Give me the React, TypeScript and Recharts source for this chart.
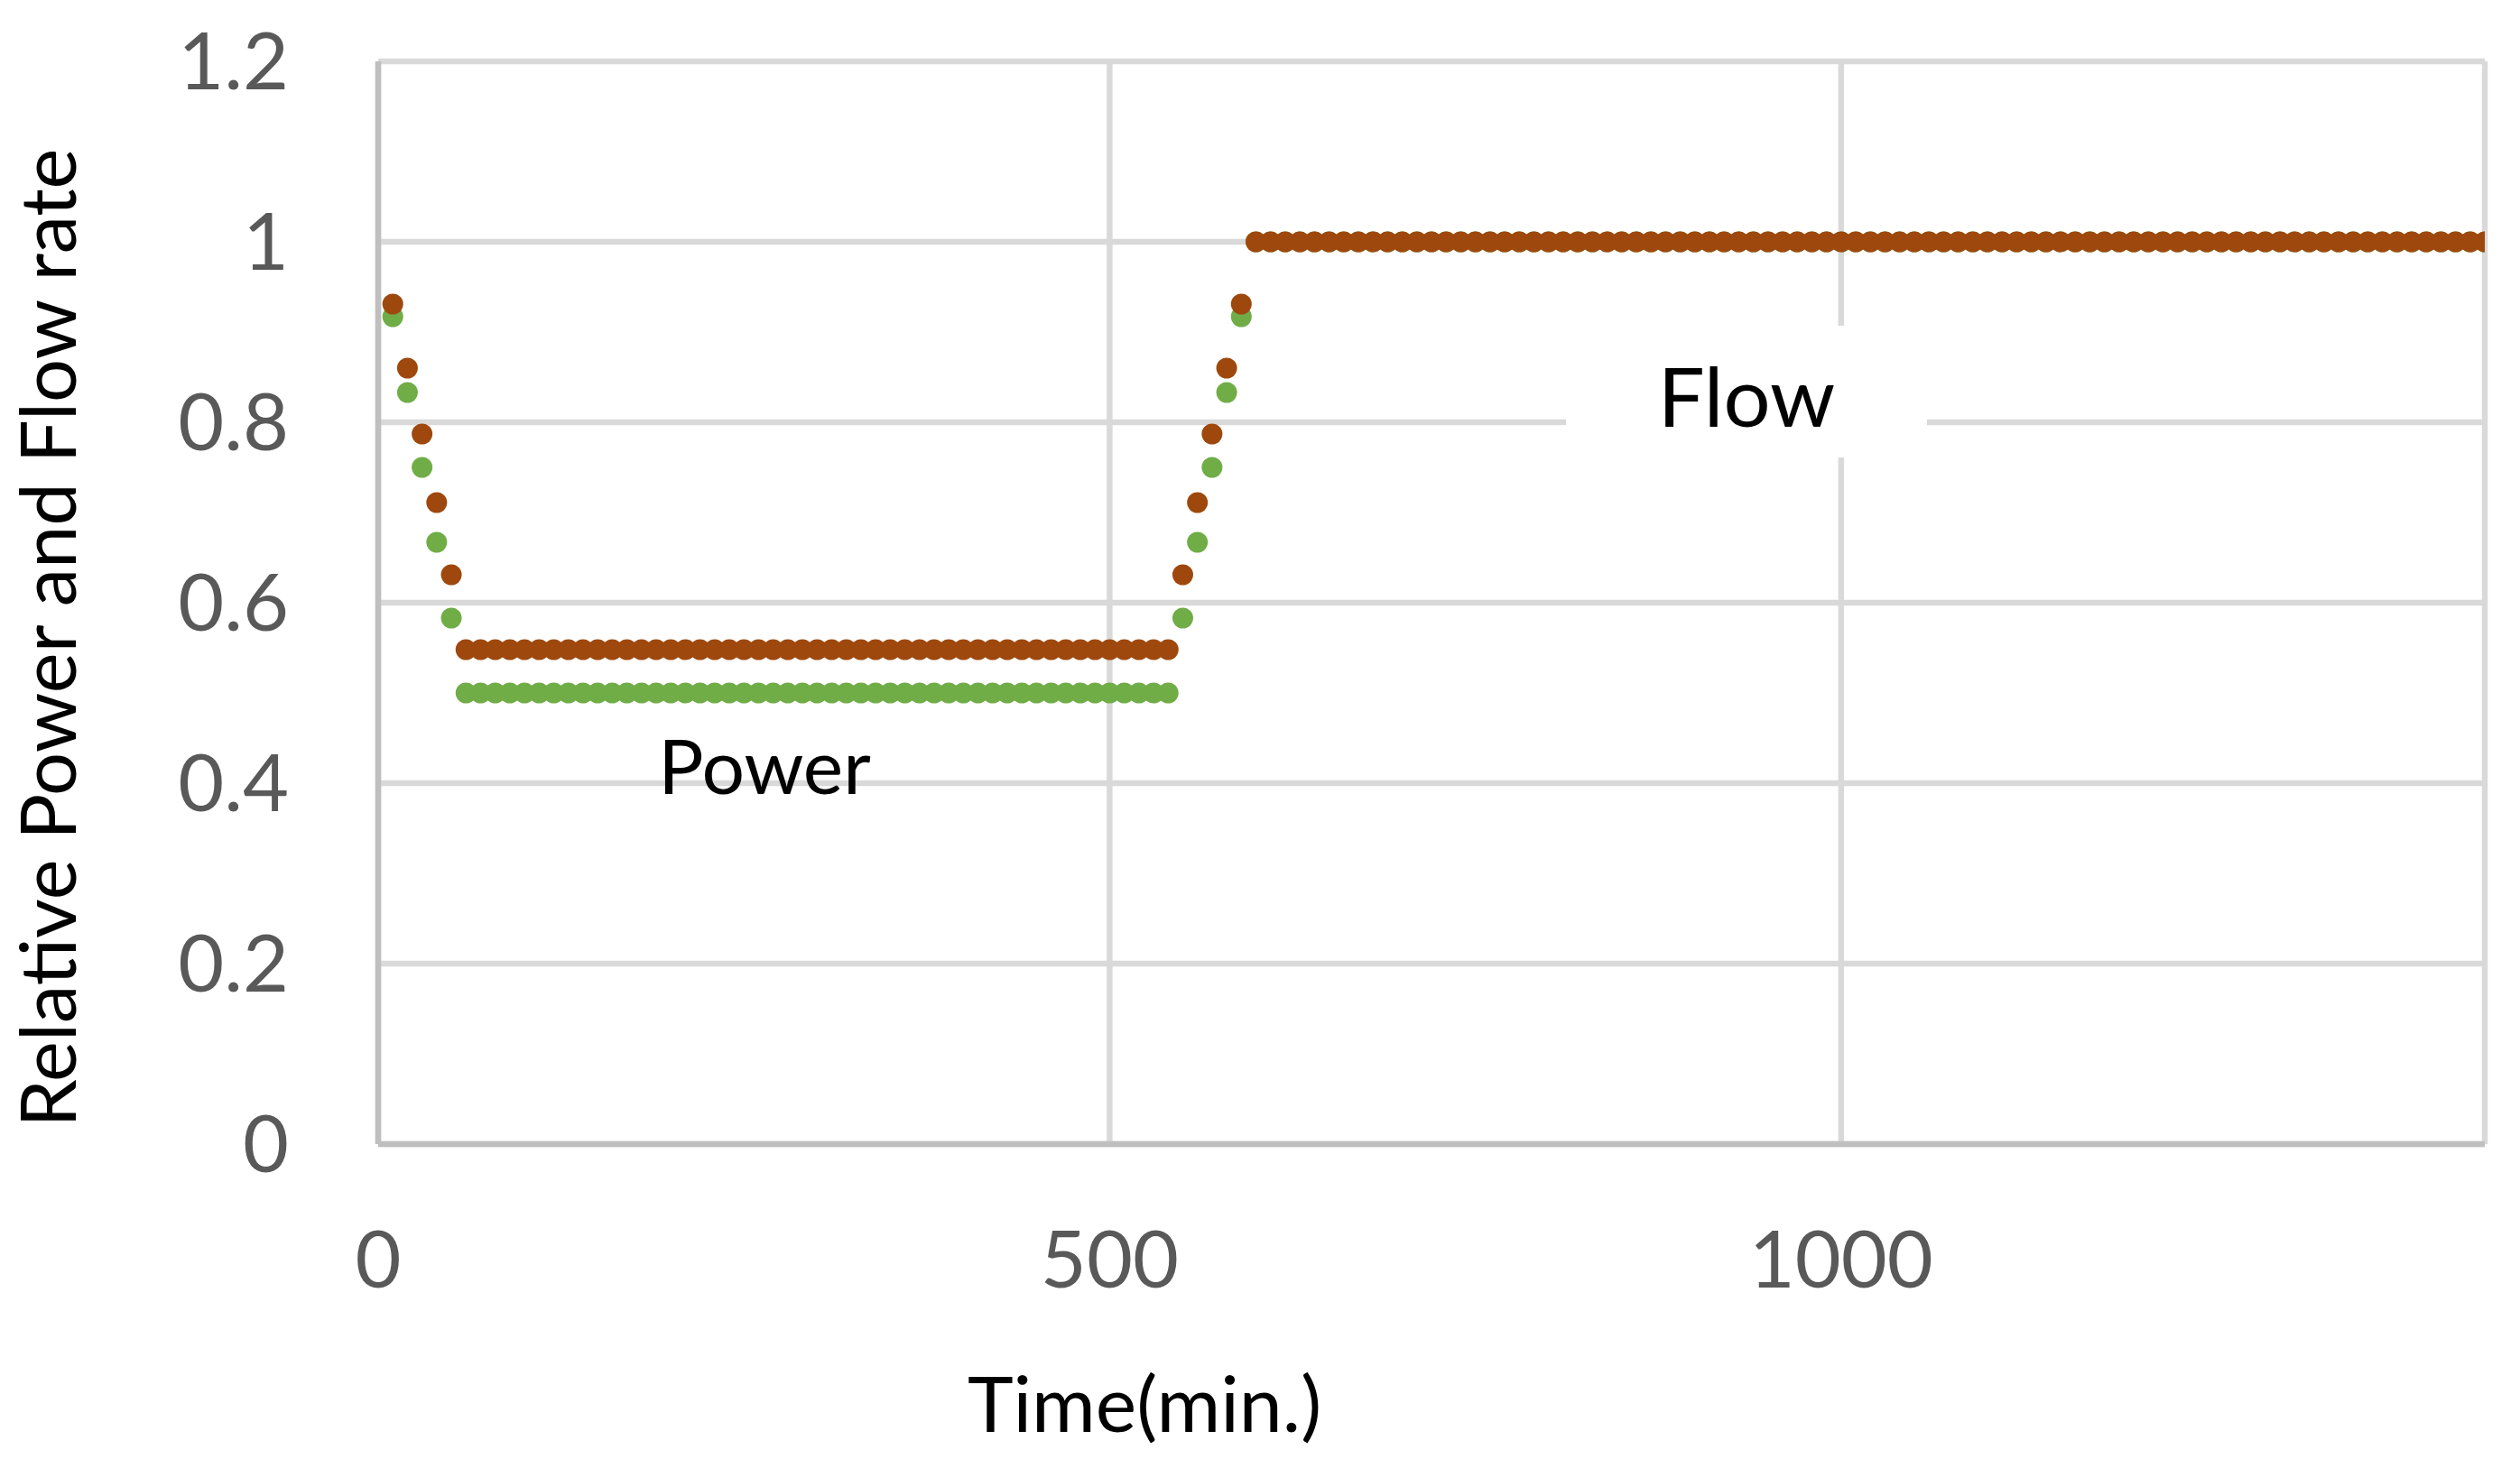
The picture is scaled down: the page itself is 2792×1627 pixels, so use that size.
import React from "react";
import { ScatterChart, Scatter, XAxis, YAxis, CartesianGrid, Label } from "recharts";

// Time in minutes (every 10 minutes over one day)
const times = [
  10, 20, 30, 40, 50, 60, 70, 80, 90, 100, 110, 120, 130, 140, 150, 160, 170, 180, 190, 200,
  210, 220, 230, 240, 250, 260, 270, 280, 290, 300, 310, 320, 330, 340, 350, 360, 370, 380, 390, 400,
  410, 420, 430, 440, 450, 460, 470, 480, 490, 500, 510, 520, 530, 540, 550, 560, 570, 580, 590, 600,
  610, 620, 630, 640, 650, 660, 670, 680, 690, 700, 710, 720, 730, 740, 750, 760, 770, 780, 790, 800,
  810, 820, 830, 840, 850, 860, 870, 880, 890, 900, 910, 920, 930, 940, 950, 960, 970, 980, 990, 1000,
  1010, 1020, 1030, 1040, 1050, 1060, 1070, 1080, 1090, 1100, 1110, 1120, 1130, 1140, 1150, 1160, 1170, 1180, 1190, 1200,
  1210, 1220, 1230, 1240, 1250, 1260, 1270, 1280, 1290, 1300, 1310, 1320, 1330, 1340, 1350, 1360, 1370, 1380, 1390, 1400,
  1410, 1420, 1430, 1440,
];

// Relative power (green)
const power = [
  0.917, 0.833, 0.75, 0.667, 0.583,
  0.5, 0.5, 0.5, 0.5, 0.5, 0.5, 0.5, 0.5, 0.5, 0.5,
  0.5, 0.5, 0.5, 0.5, 0.5, 0.5, 0.5, 0.5, 0.5, 0.5,
  0.5, 0.5, 0.5, 0.5, 0.5, 0.5, 0.5, 0.5, 0.5, 0.5,
  0.5, 0.5, 0.5, 0.5, 0.5, 0.5, 0.5, 0.5, 0.5, 0.5,
  0.5, 0.5, 0.5, 0.5, 0.5, 0.5, 0.5, 0.5, 0.5,
  0.583, 0.667, 0.75, 0.833, 0.917,
  1, 1, 1, 1, 1, 1, 1, 1, 1, 1,
  1, 1, 1, 1, 1, 1, 1, 1, 1, 1,
  1, 1, 1, 1, 1, 1, 1, 1, 1, 1,
  1, 1, 1, 1, 1, 1, 1, 1, 1, 1,
  1, 1, 1, 1, 1, 1, 1, 1, 1, 1,
  1, 1, 1, 1, 1, 1, 1, 1, 1, 1,
  1, 1, 1, 1, 1, 1, 1, 1, 1, 1,
  1, 1, 1, 1, 1, 1, 1, 1, 1, 1,
  1, 1, 1, 1, 1,
];

// Relative flow rate (brown)
const flow = [
  0.931, 0.86, 0.787, 0.711, 0.631,
  0.548, 0.548, 0.548, 0.548, 0.548, 0.548, 0.548, 0.548, 0.548, 0.548,
  0.548, 0.548, 0.548, 0.548, 0.548, 0.548, 0.548, 0.548, 0.548, 0.548,
  0.548, 0.548, 0.548, 0.548, 0.548, 0.548, 0.548, 0.548, 0.548, 0.548,
  0.548, 0.548, 0.548, 0.548, 0.548, 0.548, 0.548, 0.548, 0.548, 0.548,
  0.548, 0.548, 0.548, 0.548, 0.548, 0.548, 0.548, 0.548, 0.548,
  0.631, 0.711, 0.787, 0.86, 0.931,
  1, 1, 1, 1, 1, 1, 1, 1, 1, 1,
  1, 1, 1, 1, 1, 1, 1, 1, 1, 1,
  1, 1, 1, 1, 1, 1, 1, 1, 1, 1,
  1, 1, 1, 1, 1, 1, 1, 1, 1, 1,
  1, 1, 1, 1, 1, 1, 1, 1, 1, 1,
  1, 1, 1, 1, 1, 1, 1, 1, 1, 1,
  1, 1, 1, 1, 1, 1, 1, 1, 1, 1,
  1, 1, 1, 1, 1, 1, 1, 1, 1, 1,
  1, 1, 1, 1, 1,
];

const xTicks = [0, 500, 1000];
const yTicks = [0, 0.2, 0.4, 0.6, 0.8, 1, 1.2];

const powerData = times.map((t, i) => ({ t, v: power[i] }));
const flowData = times.map((t, i) => ({ t, v: flow[i] }));

const FONT = "Lato, 'Open Sans', sans-serif";
const GREEN = "#70AD47";
const BROWN = "#9E480E";

const dot = (color: string) => (props: any) => (
  <circle cx={props.cx} cy={props.cy} r={11.5} fill={color} />
);

export default function App() {
  return (
    <div style={{ position: "absolute", left: 0, top: 0, width: 2792, height: 1627, background: "#fff" }}>
      <ScatterChart
        width={2792}
        height={1627}
        margin={{ top: 68, right: 39, bottom: 0, left: 0 }}
      >
        <CartesianGrid stroke="#d9d9d9" strokeWidth={6.5} horizontal vertical />
        <XAxis
          type="number"
          dataKey="t"
          domain={[0, 1440]}
          ticks={xTicks}
          height={359}
          tickSize={0}
          tickMargin={97}
          tickLine={false}
          axisLine={{ stroke: "#bfbfbf", strokeWidth: 6.5 }}
          tick={{ fill: "#595959", fontSize: 88, fontFamily: FONT }}
          allowDataOverflow
        >
          <Label
            content={() => (
              <text x={1268} y={1587} textAnchor="middle" fill="#000" fontSize={86} fontFamily={FONT}>
                Time(min.)
              </text>
            )}
          />
        </XAxis>
        <YAxis
          type="number"
          dataKey="v"
          domain={[0, 1.2]}
          ticks={yTicks}
          width={419}
          tickSize={0}
          tickMargin={99}
          tickLine={false}
          axisLine={{ stroke: "#bfbfbf", strokeWidth: 6.5 }}
          tick={{ fill: "#595959", fontSize: 88, fontFamily: FONT }}
          allowDataOverflow
        >
          <Label
            content={() => (
              <text
                x={84}
                y={707}
                transform="rotate(-90 84 707)"
                textAnchor="middle"
                fill="#000"
                fontSize={85}
                fontFamily={FONT}
              >
                Relative Power and Flow rate
              </text>
            )}
          />
        </YAxis>
        <Scatter data={powerData} fill={GREEN} shape={dot(GREEN)} isAnimationActive={false} />
        <Scatter data={flowData} fill={BROWN} shape={dot(BROWN)} isAnimationActive={false} />
      </ScatterChart>
      <svg
        width={2792}
        height={1627}
        style={{ position: "absolute", left: 0, top: 0, pointerEvents: "none" }}
      >
        <rect x={1735} y={361} width={400} height={146} fill="#fff" />
        <text x={1935} y={473} textAnchor="middle" fill="#000" fontSize={92} fontFamily={FONT}>
          Flow
        </text>
        <text x={847} y={880} textAnchor="middle" fill="#000" fontSize={84} fontFamily={FONT}>
          Power
        </text>
      </svg>
    </div>
  );
}
